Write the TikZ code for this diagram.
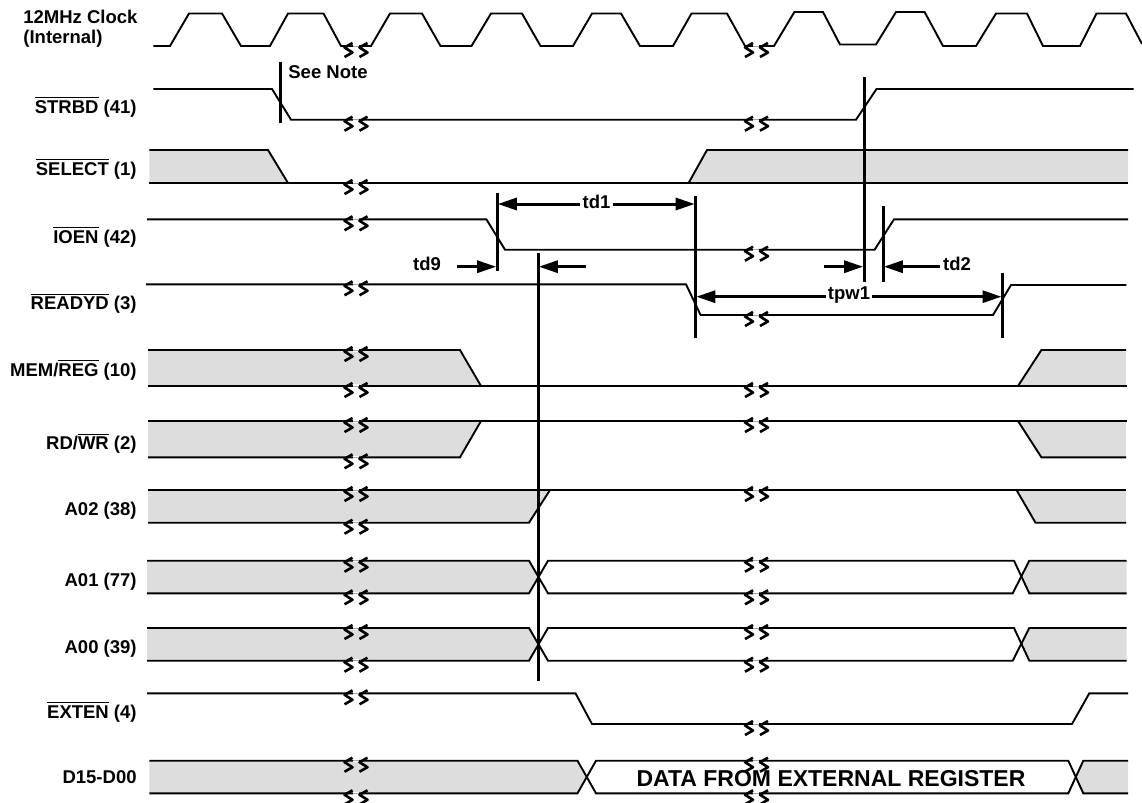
\documentclass[tikz,border=0pt]{standalone}
\usepackage{fontspec}
\setmainfont{Liberation Sans}
\usetikzlibrary{arrows.meta}
\definecolor{busgrey}{HTML}{DDDDDD}
\newcommand{\activelow}[1]{$\overline{\mbox{#1}}$}
\newcommand{\waveskip}[2]{%
  \draw[white,line width=1.6pt] (#1-3,#2) -- (#1+3,#2);
  \draw[black!35,line width=0.3pt] (#1-3,#2) -- (#1+3,#2);
  \draw[skipmark] (#1-3,#2-3) -- (#1-11,#2+1.5) -- (#1-3,#2+6.5) -- (#1-11,#2+11);
  \draw[skipmark] (#1+12,#2-3) -- (#1+4,#2+1.5) -- (#1+12,#2+6.5) -- (#1+4,#2+11);
}
\tikzset{%
wavepath/.style={draw,line width=0.95pt},
busfill/.style={fill=busgrey,draw=none},
skipmark/.style={draw,line width=1.3pt,line join=round},
edgemark/.style={draw,line width=1.5pt},
dimarrow/.style={draw,line width=1.5pt,-{Triangle[length=9.5pt,width=6pt]}},
siglabel/.style={anchor=base east,inner sep=0,font=\fontsize{9.25}{11}\selectfont\bfseries},
clocklabel/.style={anchor=base west,inner sep=0,font=\fontsize{9.25}{11}\selectfont\bfseries},
dimlabel/.style={inner sep=1pt,font=\fontsize{9.25}{11}\selectfont\bfseries},
datalabel/.style={inner sep=0,font=\fontsize{11.5}{13}\selectfont\bfseries}
}
\begin{document}
\begin{tikzpicture}[x=0.5pt,y=-0.5pt]
  \useasboundingbox (0,0) rectangle (1142,803);

  \node[clocklabel] (clock1) at (23,23.5) {12MHz Clock};
  \node[clocklabel] (clock2) at (23,43) {(Internal)};
  \node[siglabel] (strbd) at (137,113) {\activelow{STRBD} (41)};
  \node[siglabel] (select) at (137,175) {\activelow{SELECT} (1)};
  \node[siglabel] (ioen) at (137,243.5) {\activelow{IOEN} (42)};
  \node[siglabel] (readyd) at (137,309.5) {\activelow{READYD} (3)};
  \node[siglabel] (memreg) at (137,376.5) {MEM/\activelow{REG} (10)};
  \node[siglabel] (rdwr) at (137,449.5) {RD/\activelow{WR} (2)};
  \node[siglabel] (atwo) at (137,515.5) {A02 (38)};
  \node[siglabel] (aone) at (137,586.5) {A01 (77)};
  \node[siglabel] (azero) at (137,653.5) {A00 (39)};
  \node[siglabel] (exten) at (137,718) {\activelow{EXTEN} (4)};
  \node[siglabel] (data) at (137,783) {D15-D00};

  \fill[busfill] (149.4,150) -- (268,150) -- (288,183) -- (149.4,183) -- cycle;
  \fill[busfill] (688.6,183) -- (707,150) -- (1128,150) -- (1128,183) -- cycle;
  \fill[busfill] (148,350) -- (460,350) -- (481,386) -- (148,386) -- cycle;
  \fill[busfill] (1018,386) -- (1041.4,350) -- (1126,350) -- (1126,386) -- cycle;
  \fill[busfill] (148,421) -- (481,421) -- (460,457.3) -- (148,457.3) -- cycle;
  \fill[busfill] (1018,421) -- (1041.4,457.3) -- (1126,457.3) -- (1126,421) -- cycle;
  \fill[busfill] (148,490) -- (550,490) -- (529,522.7) -- (148,522.7) -- cycle;
  \fill[busfill] (1016.5,490) -- (1035.5,522.7) -- (1126,522.7) -- (1126,490) -- cycle;
  \fill[busfill] (147,560.7) -- (529,560.7) -- (538.5,577) -- (529,593.3) -- (147,593.3) -- cycle;
  \fill[busfill] (1021,577) -- (1029.3,560.7) -- (1126.7,560.7) -- (1126.7,593.3) -- (1029.3,593.3) -- cycle;
  \fill[busfill] (147,628) -- (529,628) -- (538.5,644.3) -- (529,660.7) -- (147,660.7) -- cycle;
  \fill[busfill] (1021,644.3) -- (1029.3,628) -- (1126.7,628) -- (1126.7,660.7) -- (1029.3,660.7) -- cycle;
  \fill[busfill] (149.4,760.7) -- (577.5,760.7) -- (586.7,777) -- (577.5,793.3) -- (149.4,793.3) -- cycle;
  \fill[busfill] (1075.8,777) -- (1083.3,760.7) -- (1128,760.7) -- (1128,793.3) -- (1083.3,793.3) -- cycle;

  \draw[wavepath] (153.4,46) -- (170,46) -- (189,13.5) -- (222,13.5) -- (241,46) -- (270,46)
    -- (288,13.5) -- (323.5,13.5) -- (341,46) -- (371,46) -- (390,13.5) -- (422,13.5)
    -- (440.5,46) -- (471.5,46) -- (491,13.5) -- (522,13.5) -- (540.5,46) -- (573,46)
    -- (592,13.5) -- (621,13.5) -- (640,46) -- (673,46) -- (691.5,13.5) -- (727,13.5)
    -- (745,46) -- (774,46) -- (794.4,12) -- (823,12) -- (840,44.5) -- (876,44.5)
    -- (896,12) -- (924.6,12) -- (943,46) -- (976,46) -- (996,13.5) -- (1027,13.5)
    -- (1043,46) -- (1080,46) -- (1096.5,13.5) -- (1126,13.5) -- (1142,44);
  \draw[wavepath] (153.4,89) -- (272,89) -- (291,119.7) -- (856,119.7) -- (876.5,89) -- (1133.6,89);
  \draw[wavepath] (149.4,150) -- (268,150) -- (288,183);
  \draw[wavepath] (149.4,183) -- (1128,183);
  \draw[wavepath] (688.6,183) -- (707,150) -- (1128,150);
  \draw[wavepath] (147,219.3) -- (486.4,219.3) -- (505,249.7) -- (874.6,249.7) -- (894,219.3) -- (1128,219.3);
  \draw[wavepath] (146,284.3) -- (686,284.3) -- (700.6,315) -- (993,315) -- (1011,285) -- (1126.4,285);
  \draw[wavepath] (148,350) -- (460,350) -- (481,386);
  \draw[wavepath] (148,386) -- (1127,386);
  \draw[wavepath] (1018,386) -- (1041.4,350) -- (1126,350);
  \draw[wavepath] (148,421) -- (1127,421);
  \draw[wavepath] (148,457.3) -- (460,457.3) -- (481,421);
  \draw[wavepath] (1018,421) -- (1041.4,457.3) -- (1126,457.3);
  \draw[wavepath] (148,490) -- (1126,490);
  \draw[wavepath] (148,522.7) -- (529,522.7) -- (550,490);
  \draw[wavepath] (1016.5,490) -- (1035.5,522.7) -- (1126,522.7);
  \draw[wavepath] (147,560.7) -- (529,560.7) -- (548,593.3) -- (1012.7,593.3) -- (1029.3,560.7) -- (1126.7,560.7);
  \draw[wavepath] (147,593.3) -- (529,593.3) -- (548,560.7) -- (1014,560.7) -- (1029.3,593.3) -- (1126.7,593.3);
  \draw[wavepath] (147,628) -- (529,628) -- (548,660.7) -- (1012.7,660.7) -- (1029.3,628) -- (1126.7,628);
  \draw[wavepath] (147,660.7) -- (529,660.7) -- (548,628) -- (1014,628) -- (1029.3,660.7) -- (1126.7,660.7);
  \draw[wavepath] (147,693.3) -- (575.5,693.3) -- (592,724) -- (1072,724) -- (1089.3,693.3) -- (1128,693.3);
  \draw[wavepath] (149.4,760.7) -- (577.5,760.7) -- (596,793.3) -- (1068.3,793.3) -- (1083.3,760.7) -- (1128,760.7);
  \draw[wavepath] (149.4,793.3) -- (577.5,793.3) -- (596,760.7) -- (1068.3,760.7) -- (1083.3,793.3) -- (1128,793.3);

  \waveskip{355.5}{46}
  \waveskip{355.5}{119.7}
  \waveskip{355.5}{183}
  \waveskip{355.5}{219.3}
  \waveskip{355.5}{284.3}
  \waveskip{355.5}{350}
  \waveskip{355.5}{386}
  \waveskip{355.5}{421}
  \waveskip{355.5}{457.3}
  \waveskip{355.5}{490}
  \waveskip{355.5}{522.7}
  \waveskip{355.5}{560.7}
  \waveskip{355.5}{593.3}
  \waveskip{355.5}{628}
  \waveskip{355.5}{660.7}
  \waveskip{355.5}{693.3}
  \waveskip{355.5}{760.7}
  \waveskip{355.5}{793.3}
  \waveskip{756}{46}
  \waveskip{756}{119.7}
  \waveskip{756}{249.7}
  \waveskip{756}{315}
  \waveskip{756}{386}
  \waveskip{756}{421}
  \waveskip{756}{490}
  \waveskip{756}{560.7}
  \waveskip{756}{593.3}
  \waveskip{756}{628}
  \waveskip{756}{660.7}
  \waveskip{756}{724}
  \waveskip{756}{760.7}
  \waveskip{756}{793.3}

  \draw[edgemark] (280.5,62) -- (280.5,122.7);
  \draw[edgemark] (497,192.7) -- (497,270.7);
  \draw[edgemark] (538,253) -- (538,681);
  \draw[edgemark] (695.5,196) -- (695.5,337.7);
  \draw[edgemark] (864,77) -- (864,281.7);
  \draw[edgemark] (883,206) -- (883,281.7);
  \draw[edgemark] (1002.3,273) -- (1002.3,337.7);

  \coordinate (tdoneleft) at (497.8,204);
  \coordinate (tdoneright) at (694.7,204);
  \coordinate (tpwleft) at (696.3,296.7);
  \coordinate (tpwright) at (1001.5,296.7);
  \coordinate (tdninefrom) at (457,266.7);
  \coordinate (tdnineto) at (496.2,266.7);
  \coordinate (tdninebackfrom) at (585.7,266.7);
  \coordinate (tdnineback) at (538.8,266.7);
  \coordinate (tdtwofrom) at (824,266.7);
  \coordinate (tdtwoto) at (863.2,266.7);
  \coordinate (tdtwobackfrom) at (939.6,266.7);
  \coordinate (tdtwoback) at (883.8,266.7);

  \node[clocklabel] (seenote) at (288,78.5) {See Note};
  \node[dimlabel] (tdone) at (596.5,202) {td1};
  \node[dimlabel] (tpw) at (849,295) {tpw1};
  \node[dimlabel] (tdnine) at (427,264) {td9};
  \node[dimlabel] (tdtwo) at (957,264) {td2};
  \node[datalabel] (extreg) at (831,779) {DATA FROM EXTERNAL REGISTER};

  \draw[dimarrow] (tdone.west |- tdoneleft) -- (tdoneleft);
  \draw[dimarrow] (tdone.east |- tdoneright) -- (tdoneright);
  \draw[dimarrow] (tpw.west |- tpwleft) -- (tpwleft);
  \draw[dimarrow] (tpw.east |- tpwright) -- (tpwright);
  \draw[dimarrow] (tdninefrom) -- (tdnineto);
  \draw[dimarrow] (tdninebackfrom) -- (tdnineback);
  \draw[dimarrow] (tdtwofrom) -- (tdtwoto);
  \draw[dimarrow] (tdtwobackfrom) -- (tdtwoback);

\end{tikzpicture}
\end{document}
